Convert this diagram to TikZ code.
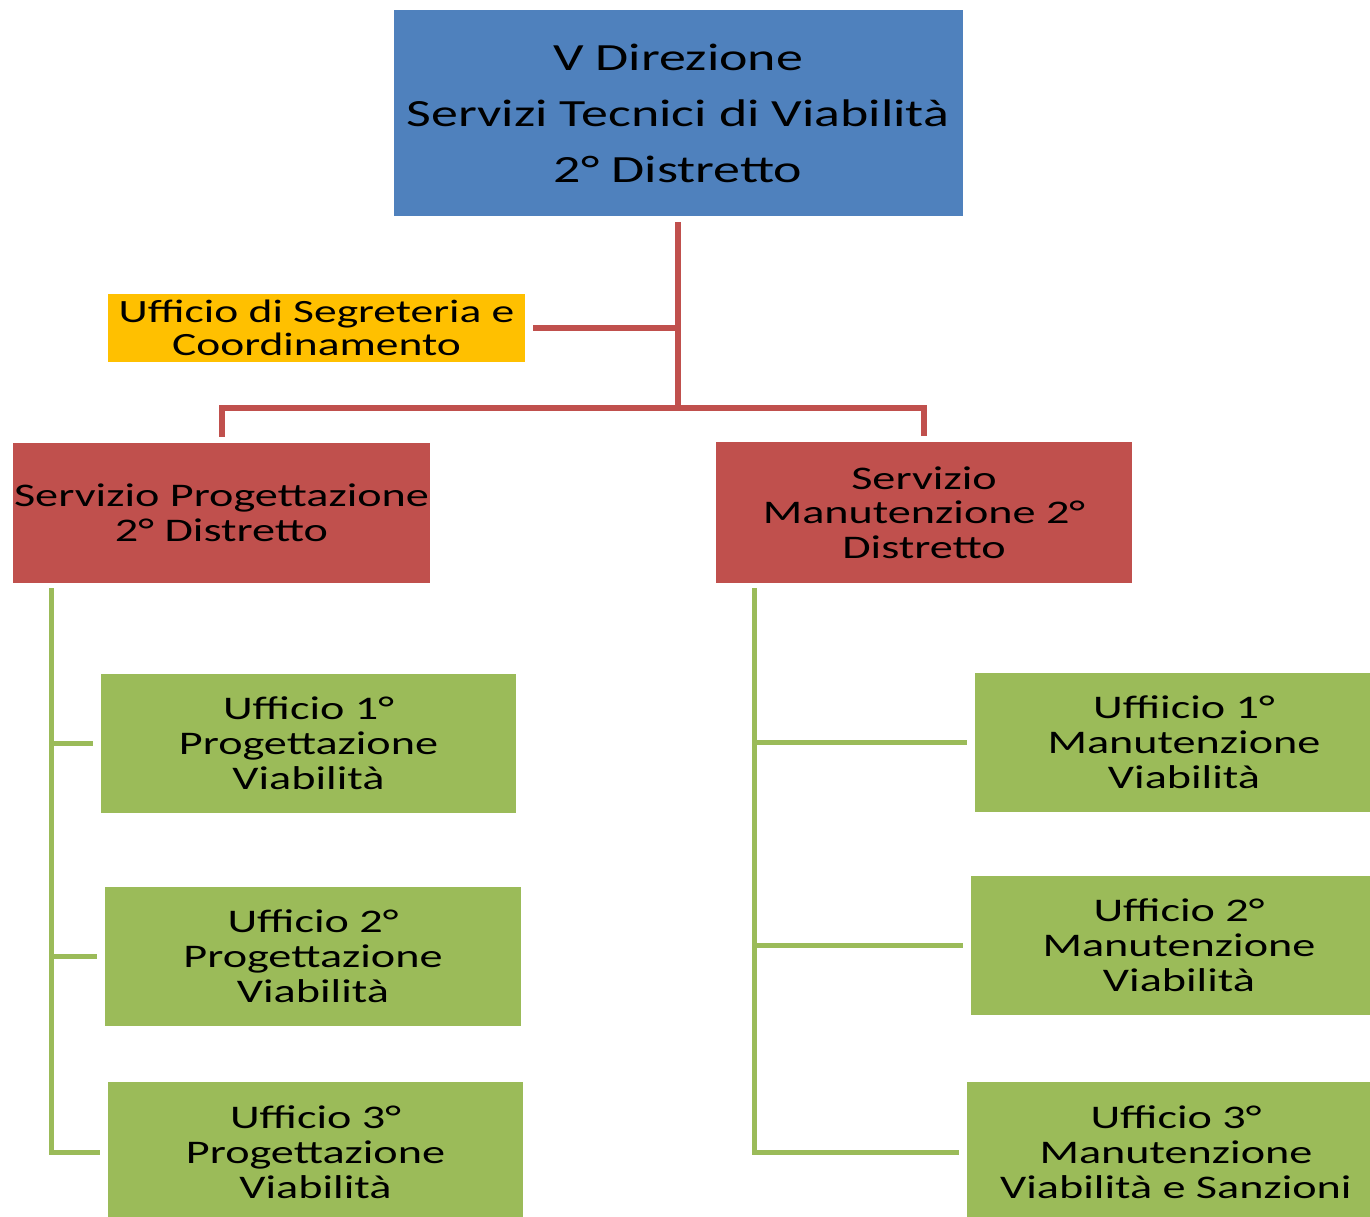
\documentclass[tikz,border=0pt]{standalone}
\usepackage{fontspec}
\setmainfont{Carlito}[FakeStretch=1.40]
\tikzset{
  x=1pt, y=-1pt,
  orgbox/.style={rectangle, inner sep=0pt, align=center, text=black},
  bluebox/.style={orgbox, fill=dirblue, font=\fontsize{38.5}{56}\selectfont},
  yellowbox/.style={orgbox, fill=segyellow, font=\fontsize{32.5}{33}\selectfont},
  redbox/.style={orgbox, fill=servred, font=\fontsize{33}{34.5}\selectfont},
  greenbox/.style={orgbox, fill=uffgreen, font=\fontsize{33}{35}\selectfont},
  redline/.style={draw=servred, line width=6pt},
  greenline/.style={draw=uffgreen, line width=5pt}
}
\definecolor{dirblue}{HTML}{4F81BD}
\definecolor{segyellow}{HTML}{FFC000}
\definecolor{servred}{HTML}{C0504D}
\definecolor{uffgreen}{HTML}{9BBB59}
\begin{document}
\begin{tikzpicture}
\useasboundingbox (0,0) rectangle (1370,1217);
\fill[white] (0,0) rectangle (1370,1217);

\node[bluebox, minimum width=569pt, minimum height=206pt] (dir) at (678,113)
  {V Direzione\\Servizi Tecnici di Viabilità\\2° Distretto};
\node[yellowbox, minimum width=417pt, minimum height=68pt] (seg) at (316.5,327.5)
  {Ufficio di Segreteria e\\Coordinamento};
\node[redbox, minimum width=417pt, minimum height=140pt] (prog) at (221.5,513)
  {Servizio Progettazione\\2° Distretto};
\node[redbox, minimum width=416pt, minimum height=141pt] (manu) at (924,512.5)
  {Servizio\\Manutenzione 2°\\Distretto};

\node[greenbox, minimum width=415pt, minimum height=139pt] (L1) at (308.5,743.5)
  {Ufficio 1°\\Progettazione\\Viabilità};
\node[greenbox, minimum width=416pt, minimum height=139pt] (L2) at (313,956.5)
  {Ufficio 2°\\Progettazione\\Viabilità};
\node[greenbox, minimum width=415pt, minimum height=140pt] (L3) at (315.5,1152)
  {Ufficio 3°\\Progettazione\\Viabilità};

\node[greenbox, minimum width=418pt, minimum height=139pt] (R1) at (1184,742.5)
  {Uffiicio 1°\\Manutenzione\\Viabilità};
\node[greenbox, minimum width=416pt, minimum height=139pt] (R2) at (1179,945.5)
  {Ufficio 2°\\Manutenzione\\Viabilità};
\node[greenbox, minimum width=418pt, minimum height=140pt] (R3) at (1176,1152)
  {Ufficio 3°\\Manutenzione\\Viabilità e Sanzioni};

% red connectors
\coordinate (j1) at (678,327.5);
\coordinate (j2) at (678,408);
\draw[redline, shorten <=6pt] (dir.south) -- (j2);
\draw[redline, shorten >=8pt] (j1) -- (seg.east);
\draw[redline, shorten >=6pt] (j2) -| (prog.north);
\draw[redline, shorten >=6pt] (j2) -| (manu.north);

% green connectors left
\coordinate (gl) at (51,1152);
\draw[greenline, shorten <=5pt, shorten >=8pt] (prog.south -| gl) -- (gl) -- (L3.west);
\draw[greenline, shorten >=8pt] (L1.west -| gl) -- (L1.west);
\draw[greenline, shorten >=8pt] (L2.west -| gl) -- (L2.west);

% green connectors right
\coordinate (gr) at (754,1152);
\draw[greenline, shorten <=5pt, shorten >=8pt] (manu.south -| gr) -- (gr) -- (R3.west);
\draw[greenline, shorten >=8pt] (R1.west -| gr) -- (R1.west);
\draw[greenline, shorten >=8pt] (R2.west -| gr) -- (R2.west);
\end{tikzpicture}
\end{document}
